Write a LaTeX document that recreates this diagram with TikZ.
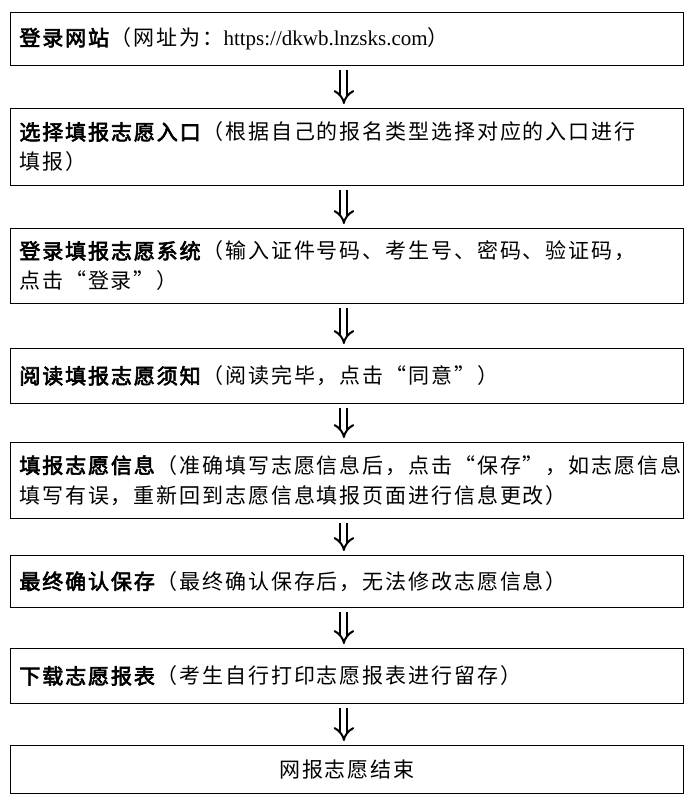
\documentclass[tikz,border=0pt]{standalone}
\usepackage{fontspec}
\setmainfont{Noto Sans CJK SC}[AutoFakeBold=3, LetterSpace=9]
\newfontfamily\latinfont{Liberation Serif}
\usetikzlibrary{arrows.meta}
\tikzset{
    stepbox/.style={draw, line width=0.8pt, anchor=north west, minimum width=673pt,
        text width=655pt, align=left, inner xsep=9pt, font=\fontsize{21}{30}\selectfont},
    flowarrow/.style={double, double distance=5pt, line width=2pt, -{Implies},
        shorten <=4pt, shorten >=4pt}
}
\begin{document}
\begin{tikzpicture}[x=1pt,y=-1pt]
    \useasboundingbox (0,0) rectangle (693,801);
    %steps
    \node[stepbox, minimum height=53pt] (b1) at (10,12) {\textbf{登录网站}（网址为：{\latinfont\fontsize{21}{30}\selectfont https://dkwb.lnzsks.com}）};
    \node[stepbox, minimum height=77pt] (b2) at (10,108) {\textbf{选择填报志愿入口}（根据自己的报名类型选择对应的入口进行\\填报）};
    \node[stepbox, minimum height=75pt] (b3) at (10,228) {\textbf{登录填报志愿系统}（输入证件号码、考生号、密码、验证码，\\点击“登录”）};
    \node[stepbox, minimum height=55pt] (b4) at (10,348) {\textbf{阅读填报志愿须知}（阅读完毕，点击“同意”）};
    \node[stepbox, minimum height=76pt] (b5) at (10,442) {\textbf{填报志愿信息}（准确填写志愿信息后，点击“保存”，如志愿信息\\填写有误，重新回到志愿信息填报页面进行信息更改）};
    \node[stepbox, minimum height=52pt] (b6) at (10,555) {\textbf{最终确认保存}（最终确认保存后，无法修改志愿信息）};
    \node[stepbox, minimum height=55pt] (b7) at (10,648) {\textbf{下载志愿报表}（考生自行打印志愿报表进行留存）};
    \node[stepbox, minimum height=48pt, align=center] (b8) at (10,745) {网报志愿结束};
    %arrows
    \foreach \a/\b in {b1/b2,b2/b3,b3/b4,b4/b5,b5/b6,b6/b7,b7/b8}
        {%
            \draw[flowarrow] ([xshift=-3pt]\a.south) -- ([xshift=-3pt]\b.north);
        }
\end{tikzpicture}
\end{document}
